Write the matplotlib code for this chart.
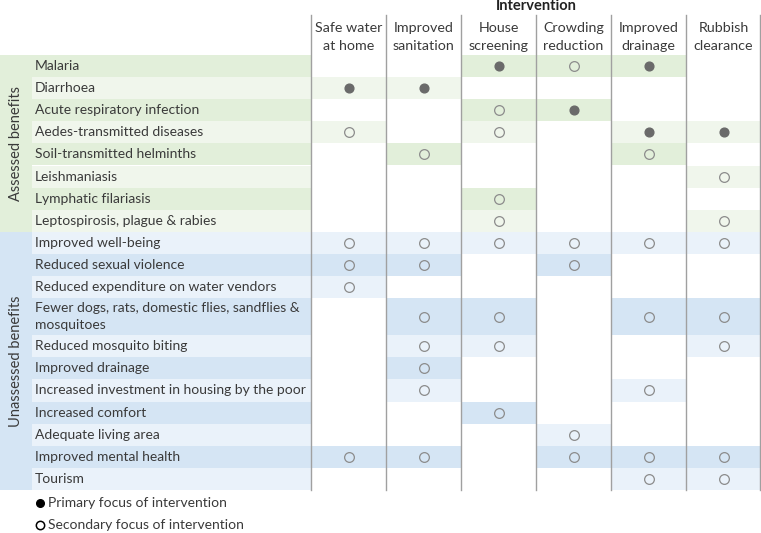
import matplotlib
matplotlib.use('Agg')
import matplotlib.pyplot as plt

plt.rcParams['font.family'] = ['Lato', 'DejaVu Sans']

# data
interventions = ["Safe water\nat home", "Improved\nsanitation", "House\nscreening",
                 "Crowding\nreduction", "Improved\ndrainage", "Rubbish\nclearance"]

assessed = ["Malaria", "Diarrhoea", "Acute respiratory infection", "Aedes-transmitted diseases",
            "Soil-transmitted helminths", "Leishmaniasis", "Lymphatic filariasis",
            "Leptospirosis, plague & rabies"]
assessed_marks = [
    ['', '', 'P', 'S', 'P', ''],
    ['P', 'P', '', '', '', ''],
    ['', '', 'S', 'P', '', ''],
    ['S', '', 'S', '', 'P', 'P'],
    ['', 'S', '', '', 'S', ''],
    ['', '', '', '', '', 'S'],
    ['', '', 'S', '', '', ''],
    ['', '', 'S', '', '', 'S'],
]

unassessed = ["Improved well-being", "Reduced sexual violence", "Reduced expenditure on water vendors",
              "Fewer dogs, rats, domestic flies, sandflies &\nmosquitoes", "Reduced mosquito biting",
              "Improved drainage", "Increased investment in housing by the poor", "Increased comfort",
              "Adequate living area", "Improved mental health", "Tourism"]
unassessed_marks = [
    ['S', 'S', 'S', 'S', 'S', 'S'],
    ['S', 'S', '', 'S', '', ''],
    ['S', '', '', '', '', ''],
    ['', 'S', 'S', '', 'S', 'S'],
    ['', 'S', 'S', '', '', 'S'],
    ['', 'S', '', '', '', ''],
    ['', 'S', '', '', 'S', ''],
    ['', '', 'S', '', '', ''],
    ['', '', '', 'S', '', ''],
    ['S', 'S', '', 'S', 'S', 'S'],
    ['', '', '', '', 'S', 'S'],
]

# (name, rows, marks, (dark, light), first row dark?)
groups = [
    ("Assessed benefits", assessed, assessed_marks, ('#e2efda', '#f0f6ec'), True),
    ("Unassessed benefits", unassessed, unassessed_marks, ('#d5e5f4', '#eaf2fa'), False),
]

# layout (pixel units)
W, H = 761, 533
top = 55
row_h = 22.1
strip_w = 32
col0 = 311
col_w = 75
text_c = '#3a3a3a'
dot_c = '#6a6a6a'
ring_c = '#8c8c8c'

fig = plt.figure(figsize=(W / 100, H / 100), dpi=100)
ax = fig.add_axes([0, 0, 1, 1])
ax.set_xlim(0, W)
ax.set_ylim(H, 0)
ax.axis('off')

y = top
for gname, labels, marks, (dark, light), first_dark in groups:
    g_top = y
    for i, (lab, row) in enumerate(zip(labels, marks)):
        h = row_h * (1 + 0.68 * lab.count('\n'))
        c = dark if (i % 2 == 0) == first_dark else light
        ax.barh(y, col0 - strip_w, height=h, left=strip_w, align='edge', color=c, lw=0)
        cy = y + h / 2
        ax.text(35, cy, lab, ha='left', va='center', fontsize=10, color=text_c, linespacing=1.5)
        for j, m in enumerate(row):
            if not m:
                continue
            ax.barh(y, col_w, height=h, left=col0 + j * col_w, align='edge', color=c, lw=0)
            cx = col0 + (j + 0.5) * col_w
            if m == 'P':
                ax.plot(cx, cy, 'o', ms=6.3, mfc=dot_c, mec=dot_c, zorder=3)
            else:
                ax.plot(cx, cy, 'o', ms=7, mfc='none', mec=ring_c, mew=0.9, zorder=3)
        y += h
    ax.barh(g_top, strip_w, height=y - g_top, left=0, align='edge', color=dark, lw=0)
    ax.text(16, (g_top + y) / 2, gname, rotation=90, ha='center', va='center',
            fontsize=10.5, color=text_c)
bottom = y

# column lines and headers
for j in range(len(interventions) + 1):
    x = min(col0 + j * col_w, W - 0.7)
    ax.plot([x, x], [15, bottom], color='#a0a0a0', lw=1.0, zorder=4)
for j, name in enumerate(interventions):
    ax.text(col0 + (j + 0.5) * col_w, 37, name, ha='center', va='center',
            fontsize=10.3, color=text_c, linespacing=1.5)
ax.text(col0 + 3 * col_w, 6, "Intervention", ha='center', va='center',
        fontsize=10.5, fontweight='bold', color='#222222')

# legend
ax.plot(40, 503, 'o', ms=5.5, color='black')
ax.text(48, 503, "Primary focus of intervention", ha='left', va='center', fontsize=10, color=text_c)
ax.plot(40, 525, 'o', ms=6, mfc='none', mec='black', mew=1.1)
ax.text(48, 525, "Secondary focus of intervention", ha='left', va='center', fontsize=10, color=text_c)

fig.savefig('out.png', dpi=100)
